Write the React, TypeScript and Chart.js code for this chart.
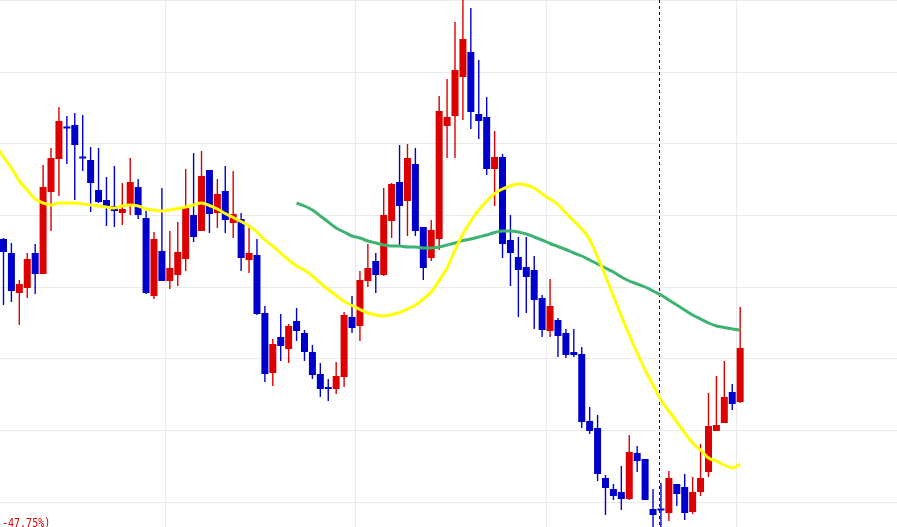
import { useEffect, useRef } from "react";
import { Chart, registerables } from "chart.js";

Chart.register(...registerables);

// daily candles, one entry per trading day (index 0 = first visible day)
const opens = [
  36.1, 34.7, 30.7, 31.2, 34.7, 32.6, 40.8, 44.1, 47.2, 47.5,
  44.3, 44.0, 41.0, 40.0, 39.4, 38.7, 39.6, 41.3, 38.2, 30.4,
  34.9, 31.9, 32.5, 34.1, 38.5, 36.9, 43.0, 38.7, 40.9, 37.7,
  38.1, 34.0, 34.5, 28.7, 22.7, 26.3, 25.1, 27.9, 26.7, 24.8,
  22.6, 21.15, 21.1, 22.3, 28.3, 27.4, 31.9, 33.9, 32.5, 37.9,
  41.8, 39.9, 43.6, 37.3, 34.2, 36.1, 47.4, 48.4, 52.3, 54.8,
  48.6, 48.3, 43.1, 44.3, 36.0, 34.3, 33.3, 33.0, 30.2, 26.9,
  28.0, 26.7, 24.8, 24.6, 17.9, 17.2, 12.2, 11.1, 10.8, 10.1,
  14.7, 14.1, 9.1, 9.1, 8.7, 11.6, 11.3, 8.8, 10.8, 12.8,
  16.9, 17.7, 20.8, 19.8,
];
const highs = [
  36.2, 35.7, 32.0, 34.7, 35.6, 43.5, 45.2, 49.3, 48.4, 48.7,
  48.5, 45.3, 45.2, 42.3, 43.4, 41.7, 44.2, 42.1, 38.9, 36.8,
  41.2, 36.9, 37.8, 43.1, 44.7, 44.9, 43.0, 42.1, 43.4, 42.9,
  38.7, 37.2, 36.1, 29.4, 26.1, 28.6, 27.6, 29.2, 27.0, 25.5,
  23.7, 22.1, 23.8, 28.8, 30.4, 32.9, 35.6, 34.7, 41.2, 41.7,
  45.5, 45.6, 45.2, 37.3, 38.0, 50.4, 52.1, 57.8, 60.3, 59.2,
  54.0, 50.3, 46.9, 44.6, 38.5, 36.3, 36.3, 34.4, 30.5, 32.1,
  28.2, 27.1, 27.1, 25.3, 19.3, 18.5, 12.5, 11.6, 13.4, 16.5,
  15.4, 14.1, 11.1, 11.7, 12.9, 11.6, 12.6, 12.3, 15.6, 20.7,
  22.4, 23.9, 21.6, 29.3,
];
const lows = [
  29.5, 29.8, 27.5, 30.2, 30.6, 32.6, 36.9, 40.4, 43.6, 40.0,
  42.9, 38.8, 39.7, 37.4, 37.3, 37.5, 38.5, 38.1, 30.6, 30.1,
  31.9, 31.1, 31.4, 32.9, 35.8, 36.9, 36.7, 37.2, 36.7, 36.2,
  32.9, 32.7, 28.5, 21.8, 21.4, 23.9, 23.7, 25.9, 23.9, 22.1,
  20.3, 19.9, 20.6, 21.3, 26.7, 25.9, 31.3, 30.7, 32.4, 36.2,
  35.5, 36.4, 36.4, 32.0, 33.9, 35.0, 44.2, 44.2, 48.0, 47.1,
  46.1, 42.5, 39.4, 34.2, 31.4, 28.3, 28.7, 27.1, 26.3, 26.3,
  24.3, 24.2, 24.3, 17.2, 16.6, 11.9, 8.5, 10.0, 9.0, 10.0,
  12.8, 10.0, 7.0, 6.8, 7.9, 9.4, 8.0, 8.6, 10.4, 12.3,
  16.9, 17.7, 19.0, 19.7,
];
const closes = [
  34.8, 30.9, 31.6, 34.1, 32.6, 41.3, 44.2, 47.9, 47.15, 45.5,
  44.15, 41.7, 39.8, 39.4, 38.9, 39.1, 41.8, 38.5, 30.7, 36.1,
  31.9, 33.2, 34.8, 39.2, 36.3, 42.4, 38.6, 40.6, 38.0, 38.6,
  34.2, 34.7, 28.6, 22.6, 25.6, 25.4, 27.4, 26.9, 24.8, 22.5,
  21.1, 21.1, 22.4, 28.5, 27.2, 32.0, 33.2, 32.5, 38.5, 41.6,
  39.4, 44.2, 36.9, 33.2, 37.0, 48.9, 48.3, 53.0, 56.1, 48.8,
  47.9, 43.1, 44.3, 35.6, 34.7, 33.0, 32.3, 30.0, 27.0, 29.4,
  26.4, 24.5, 24.5, 17.8, 16.9, 12.6, 11.2, 10.4, 10.1, 14.8,
  13.9, 10.0, 8.5, 8.95, 12.2, 10.6, 8.7, 10.8, 12.2, 17.4,
  17.5, 20.3, 19.6, 25.2,
];

// short moving average, first value belongs to the day before the first candle
const fastStart = -1;
const fastMA = [
  45.5,
  44.3, 43.2, 41.9, 41.0, 40.1, 39.7, 39.5, 39.7, 39.7, 39.7,
  39.6, 39.5, 39.4, 39.3, 39.2, 39.4, 39.5, 39.4, 39.1, 39.0,
  38.9, 39.0, 39.15, 39.3, 39.5, 39.7, 39.45, 39.1, 38.65, 38.25,
  37.85, 37.4, 36.8, 36.0, 35.4, 34.7, 34.0, 33.4, 33.0, 32.4,
  31.7, 31.05, 30.45, 29.85, 29.45, 29.05, 28.7, 28.5, 28.4, 28.55,
  28.75, 29.1, 29.5, 30.1, 30.8, 31.95, 33.2, 35.0, 36.6, 37.9,
  39.0, 39.9, 40.65, 41.1, 41.4, 41.6, 41.5, 41.2, 40.6, 40.1,
  39.55, 38.7, 37.9, 37.1, 36.05, 34.3, 32.4, 30.4, 28.4, 26.5,
  24.7, 23.0, 21.5, 20.0, 18.9, 17.8, 16.7, 15.7, 15.0, 14.2,
  13.9, 13.5, 13.2, 13.6,
];

// long moving average, starts at day 37
const slowStart = 37;
const slowMA = [
  39.7, 39.4, 39.0, 38.4, 37.8, 37.2, 36.8, 36.4, 36.2, 35.9,
  35.7, 35.5, 35.4, 35.4, 35.3, 35.3, 35.2, 35.2, 35.3, 35.5,
  35.7, 35.95, 36.1, 36.3, 36.5, 36.75, 36.9, 36.9, 36.8, 36.6,
  36.3, 36.0, 35.65, 35.35, 35.05, 34.7, 34.4, 34.0, 33.6, 33.2,
  32.8, 32.3, 31.9, 31.6, 31.3, 30.9, 30.5, 30.0, 29.5, 29.0,
  28.5, 28.1, 27.7, 27.4, 27.25, 27.1, 27.0,
];

const gridPrices = [9.8, 17.0, 24.2, 31.3, 38.5, 45.6, 52.8, 60.0];
const gridDays = [20.5, 44.5, 68.5, 92.5];
const crosshairDay = 83;
const changeLabel = "-47.75%)";

const UP = "#dd0000";
const DOWN = "#0000cc";
const GRID = "#ebebeb";

const crosshair = {
  id: "crosshair",
  beforeDatasetsDraw(chart: any) {
    const { ctx, chartArea, scales } = chart;
    const x = Math.round(scales.x.getPixelForValue(crosshairDay)) - 1.5;
    ctx.save();
    ctx.strokeStyle = "#0000cc";
    ctx.lineWidth = 1;
    ctx.setLineDash([3, 3]);
    ctx.beginPath();
    ctx.moveTo(x, chartArea.top);
    ctx.lineTo(x, chartArea.bottom);
    ctx.stroke();
    ctx.restore();
  },
};

const App = () => {
  const canvasRef = useRef<HTMLCanvasElement | null>(null);
  const chartRef = useRef<Chart | null>(null);

  useEffect(() => {
    if (!canvasRef.current) return;
    const colors = opens.map((o, i) => (closes[i] > o ? UP : DOWN));

    chartRef.current = new Chart(canvasRef.current, {
      type: "bar",
      data: {
        datasets: [
          {
            type: "line",
            data: fastMA.map((v, i) => ({ x: i + fastStart, y: v })),
            borderColor: "#ffff00",
            borderWidth: 3,
            pointRadius: 0,
            cubicInterpolationMode: "monotone",
            order: 0,
          },
          {
            type: "line",
            data: slowMA.map((v, i) => ({ x: i + slowStart, y: v })),
            borderColor: "#3cb371",
            borderWidth: 3,
            pointRadius: 0,
            cubicInterpolationMode: "monotone",
            order: 0,
          },
          {
            type: "bar",
            data: opens.map((o, i) => ({ x: i, y: [o, closes[i]] })),
            backgroundColor: colors,
            barThickness: 7,
            minBarLength: 2,
            grouped: false,
            inflateAmount: 0,
            order: 1,
          },
          {
            type: "bar",
            data: lows.map((l, i) => ({ x: i, y: [l, highs[i]] })),
            backgroundColor: colors,
            barThickness: 1.4,
            grouped: false,
            inflateAmount: 0,
            order: 2,
          },
        ] as any,
      },
      options: {
        animation: false,
        responsive: false,
        events: [],
        layout: { padding: 0 },
        plugins: {
          legend: { display: false },
          tooltip: { enabled: false },
        },
        scales: {
          x: {
            type: "linear",
            min: -0.44,
            max: 112.8,
            offset: false,
            ticks: { display: false },
            grid: { color: GRID, drawTicks: false, offset: false },
            border: { display: false },
            afterBuildTicks: (scale: any) => {
              scale.ticks = gridDays.map((value) => ({ value }));
            },
          },
          y: {
            type: "linear",
            min: 7.3,
            max: 60,
            beginAtZero: false,
            ticks: { display: false },
            grid: { color: GRID, drawTicks: false },
            border: { display: false },
            afterBuildTicks: (scale: any) => {
              scale.ticks = gridPrices.map((value) => ({ value }));
            },
          },
        } as any,
      },
      plugins: [crosshair],
    });

    return () => {
      if (chartRef.current) {
        chartRef.current.destroy();
        chartRef.current = null;
      }
    };
  }, []);

  return (
    <div
      style={{
        position: "absolute",
        left: 0,
        top: 0,
        width: 897,
        height: 527,
        overflow: "hidden",
        background: "#ffffff",
      }}
    >
      <canvas ref={canvasRef} width={897} height={527} style={{ display: "block" }} />
      <div
        style={{
          position: "absolute",
          left: 2,
          top: 516,
          color: UP,
          font: '13px "DejaVu Sans Mono"',
          lineHeight: "13px",
          whiteSpace: "nowrap",
          transform: "scaleX(0.77)",
          transformOrigin: "0 0",
        }}
      >
        {changeLabel}
      </div>
    </div>
  );
};

export default App;
